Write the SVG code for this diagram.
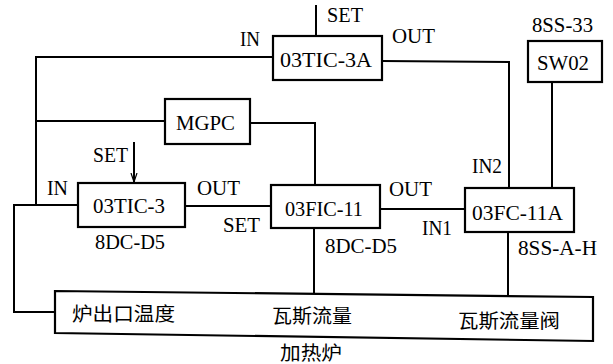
<svg xmlns="http://www.w3.org/2000/svg" width="613" height="364" viewBox="0 0 613 364">
<defs>
<marker id="arr" markerWidth="10" markerHeight="8" refX="9" refY="4" orient="auto" markerUnits="userSpaceOnUse">
<path d="M0,1 L9,4 L0,7" fill="none" stroke="#000" stroke-width="1.2"/>
</marker>
<style>
.box{fill:#fff;stroke:#000;stroke-width:2.2}
.ln{fill:none;stroke:#000;stroke-width:2}
.t{font-family:'Liberation Serif','Times New Roman',serif;font-size:21px;fill:#000}
.cn{font-family:'Noto Sans CJK SC','Noto Sans CJK JP',sans-serif;font-size:19px;fill:#000}
</style>
</defs>
<rect width="613" height="364" fill="#fff"/>
<g id="connectors">
<polyline class="ln" points="273,57 36,57 36,204"/>
<polyline class="ln" points="36,121 165,121"/>
<polyline class="ln" points="250,123 315,123 315,185"/>
<polyline class="ln" points="78,205 14,205 14,312 55,312"/>
<line class="ln" x1="316" y1="5" x2="316" y2="36"/>
<line class="ln" x1="134" y1="142" x2="134" y2="182" marker-end="url(#arr)"/>
<polyline class="ln" points="382,61 509,62 509,188"/>
<line class="ln" x1="552" y1="82" x2="552" y2="188"/>
<line class="ln" x1="185" y1="206" x2="271" y2="206"/>
<line class="ln" x1="380" y1="209" x2="465" y2="209"/>
<line class="ln" x1="314" y1="228" x2="314" y2="293"/>
<line class="ln" x1="508" y1="232" x2="508" y2="295"/>
</g>
<g id="n-03TIC-3A">
<rect class="box" x="273" y="36" width="109" height="44"/>
<text class="t" x="280" y="67" textLength="92" lengthAdjust="spacingAndGlyphs">03TIC-3A</text>
</g>
<g id="n-SW02">
<rect class="box" x="528" y="41" width="74" height="41"/>
<text class="t" x="537" y="70" textLength="52" lengthAdjust="spacingAndGlyphs">SW02</text>
</g>
<g id="n-MGPC">
<rect class="box" x="165" y="99" width="85" height="45"/>
<text class="t" x="176" y="130" textLength="59" lengthAdjust="spacingAndGlyphs">MGPC</text>
</g>
<g id="n-03TIC-3">
<rect class="box" x="78" y="183" width="107" height="44"/>
<text class="t" x="93" y="213" textLength="72" lengthAdjust="spacingAndGlyphs">03TIC-3</text>
</g>
<g id="n-03FIC-11">
<rect class="box" x="271" y="185" width="109" height="43"/>
<text class="t" x="285" y="216" textLength="78" lengthAdjust="spacingAndGlyphs">03FIC-11</text>
</g>
<g id="n-03FC-11A">
<rect class="box" x="465" y="188" width="109" height="44"/>
<text class="t" x="472" y="220" textLength="91" lengthAdjust="spacingAndGlyphs">03FC-11A</text>
</g>
<g id="n-furnace">
<polygon class="box" points="55,291 593,297 593,341 55,333"/>
<text class="cn" x="72" y="321" textLength="103" lengthAdjust="spacingAndGlyphs">炉出口温度</text>
<text class="cn" x="272" y="323" textLength="80" lengthAdjust="spacingAndGlyphs">瓦斯流量</text>
<text class="cn" x="458" y="328" textLength="102" lengthAdjust="spacingAndGlyphs">瓦斯流量阀</text>
</g>
<g id="labels">
<text class="t" x="327" y="22" textLength="36" lengthAdjust="spacingAndGlyphs">SET</text>
<text class="t" x="240" y="46" textLength="20" lengthAdjust="spacingAndGlyphs">IN</text>
<text class="t" x="392" y="43" textLength="43" lengthAdjust="spacingAndGlyphs">OUT</text>
<text class="t" x="532" y="32" textLength="61" lengthAdjust="spacingAndGlyphs">8SS-33</text>
<text class="t" x="472" y="173" textLength="30" lengthAdjust="spacingAndGlyphs">IN2</text>
<text class="t" x="93" y="162" textLength="35" lengthAdjust="spacingAndGlyphs">SET</text>
<text class="t" x="47" y="195" textLength="21" lengthAdjust="spacingAndGlyphs">IN</text>
<text class="t" x="197" y="195" textLength="43" lengthAdjust="spacingAndGlyphs">OUT</text>
<text class="t" x="223" y="232" textLength="37" lengthAdjust="spacingAndGlyphs">SET</text>
<text class="t" x="95" y="249" textLength="70" lengthAdjust="spacingAndGlyphs">8DC-D5</text>
<text class="t" x="389" y="196" textLength="43" lengthAdjust="spacingAndGlyphs">OUT</text>
<text class="t" x="422" y="235" textLength="30" lengthAdjust="spacingAndGlyphs">IN1</text>
<text class="t" x="325" y="253" textLength="72" lengthAdjust="spacingAndGlyphs">8DC-D5</text>
<text class="t" x="518" y="255" textLength="79" lengthAdjust="spacingAndGlyphs">8SS-A-H</text>
<text class="cn" x="280" y="360" textLength="62" lengthAdjust="spacingAndGlyphs">加热炉</text>
</g>
</svg>
